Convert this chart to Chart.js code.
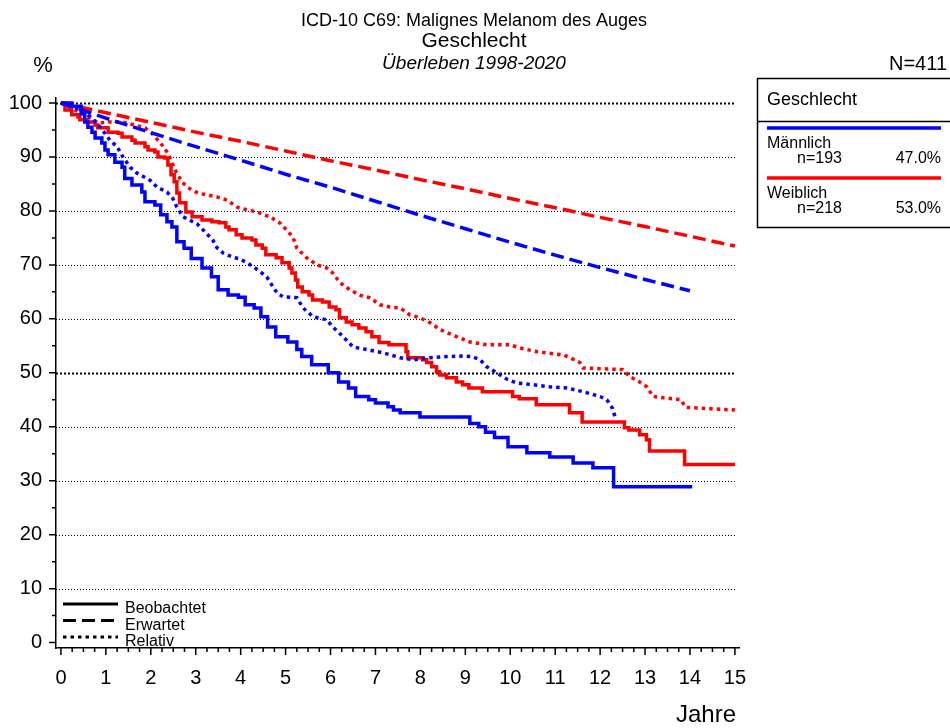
<!DOCTYPE html>
<html>
<head>
<meta charset="utf-8">
<title>Überleben nach Geschlecht</title>
<script src="https://cdn.jsdelivr.net/npm/chart.js"></script>
<style>
  body { margin: 0; background: #fff; }
  #survChart { display: block; }
</style>
</head>
<body>
<canvas id="survChart" width="950" height="728"></canvas>
<script>
// Männlich – beobachtet (Kaplan-Meier, Stufen)
const maleObsYears = [0, 0.24, 0.45, 0.53, 0.6, 0.69, 0.76, 0.91, 0.98, 1.05, 1.2, 1.36, 1.42, 1.58, 1.8, 1.87, 2.09, 2.22, 2.36, 2.47, 2.58, 2.74, 2.9, 3.14, 3.35, 3.5, 3.72, 3.95, 4.1, 4.3, 4.45, 4.6, 4.78, 5.05, 5.25, 5.36, 5.58, 5.95, 6.18, 6.4, 6.56, 6.85, 7.0, 7.28, 7.4, 7.55, 7.99, 9.1, 9.3, 9.45, 9.65, 9.95, 10.37, 10.88, 11.4, 11.84, 12.3, 14.05];
const maleObsPct = [100, 99.4, 98, 96.5, 95.5, 94.6, 93.5, 92.6, 91.3, 90.4, 89, 88.1, 86, 84.8, 83.5, 81.7, 81.1, 79.3, 78, 77, 74.3, 73.1, 71.2, 69.4, 67.8, 65.4, 64.4, 64, 62.6, 62, 60.4, 58.5, 56.7, 55.7, 54.3, 53, 51.5, 50, 48.3, 47.2, 45.6, 45, 44.4, 43.7, 43.1, 42.6, 41.8, 40.6, 40, 39, 38, 36.3, 35.2, 34.4, 33.3, 32.4, 28.9, 28.9];
// Männlich – erwartet
const maleExpYears = [0, 1, 2, 3, 4, 5, 6, 7, 8, 9, 10, 11, 12, 13, 14];
const maleExpPct = [100, 97.2, 94.5, 91.9, 89.4, 86.8, 84.4, 81.8, 79.2, 76.7, 74.2, 71.8, 69.5, 67.3, 65.2];
// Männlich – relativ
const maleRelYears = [0, 0.13, 0.49, 0.87, 1.09, 1.25, 1.38, 1.54, 1.69, 1.98, 2.14, 2.36, 2.49, 2.58, 2.72, 3.03, 3.16, 3.38, 3.47, 3.61, 3.83, 3.98, 4.14, 4.36, 4.58, 4.72, 4.81, 4.94, 5.25, 5.39, 5.61, 5.92, 6.05, 6.28, 6.5, 6.81, 7.17, 7.55, 7.84, 8.21, 8.59, 8.95, 9.15, 9.33, 9.48, 9.66, 9.93, 10.15, 10.5, 10.88, 11.26, 11.62, 12.0, 12.15, 12.27, 12.33];
const maleRelPct = [100, 99.6, 98.7, 95.6, 93.1, 91.9, 90, 88.1, 87, 85.7, 84.4, 83.5, 82.3, 80.7, 78.9, 77.6, 76.5, 74.6, 73.2, 72.2, 71.4, 71.1, 70.4, 69.2, 67.8, 65.9, 64.8, 64.1, 63.9, 62, 60.4, 59.8, 58.5, 56.7, 54.8, 54.3, 53.7, 52.8, 52.4, 52.8, 53, 53.1, 53, 52.4, 51.1, 50.2, 48.8, 48.1, 47.8, 47.4, 47.2, 46.5, 45.6, 45, 43.5, 41.9];

// Weiblich – beobachtet
const femaleObsYears = [0, 0.09, 0.24, 0.38, 0.42, 0.6, 0.76, 0.82, 1.05, 1.27, 1.36, 1.58, 1.65, 1.87, 1.94, 2.09, 2.16, 2.31, 2.38, 2.45, 2.52, 2.58, 2.64, 2.78, 2.92, 3.14, 3.36, 3.52, 3.67, 3.74, 3.9, 4.03, 4.25, 4.34, 4.48, 4.56, 4.79, 4.92, 5.08, 5.14, 5.22, 5.27, 5.37, 5.52, 5.6, 5.82, 5.97, 6.12, 6.2, 6.35, 6.48, 6.63, 6.79, 6.92, 7.08, 7.3, 7.68, 7.72, 8.05, 8.14, 8.25, 8.36, 8.43, 8.58, 8.8, 8.94, 9.08, 9.38, 10.05, 10.2, 10.58, 11.32, 11.6, 12.54, 12.64, 12.88, 13.03, 13.1, 13.88, 15];
const femaleObsPct = [100, 98.7, 97.8, 97.4, 96.9, 96.5, 95.9, 95.4, 94.6, 94.4, 93.7, 93.1, 92.6, 91.9, 91.3, 90.9, 90, 89.8, 88.5, 86.7, 85.4, 83.3, 81.5, 79.8, 78.9, 78.3, 78, 77.8, 77, 76.5, 75.6, 75, 74.6, 73.7, 73.1, 71.9, 71.3, 70.4, 69.4, 68.5, 67.2, 65.9, 65, 64.4, 63.5, 63.1, 62.2, 61.7, 60.2, 59.4, 58.9, 58.3, 57.6, 56.7, 55.6, 55.2, 53.9, 52.8, 52.4, 51.9, 51.1, 50.2, 49.6, 49.1, 48.3, 47.8, 47.2, 46.5, 45.6, 45.2, 44.1, 42.6, 40.9, 39.8, 39.4, 38.5, 37.6, 35.5, 33, 33];
// Weiblich – erwartet
const femaleExpYears = [0, 1, 2, 3, 4, 5, 6, 7, 8, 9, 10, 11, 12, 13, 14, 15];
const femaleExpPct = [100, 98.2, 96.4, 94.6, 92.9, 91.1, 89.3, 87.6, 85.8, 84.1, 82.3, 80.6, 78.8, 77.1, 75.3, 73.5];
// Weiblich – relativ
const femaleRelYears = [0, 0.69, 0.82, 1.1, 1.36, 1.65, 1.87, 2.02, 2.16, 2.25, 2.38, 2.47, 2.54, 2.69, 2.83, 3.05, 3.47, 3.7, 3.92, 4.14, 4.36, 4.65, 4.87, 5.16, 5.25, 5.47, 5.7, 5.92, 6.05, 6.21, 6.43, 6.65, 6.88, 7.1, 7.32, 7.55, 7.77, 7.99, 8.21, 8.44, 8.72, 9.1, 9.48, 9.99, 10.22, 10.6, 11.18, 11.33, 11.55, 11.62, 12.5, 12.66, 12.88, 13.04, 13.18, 13.8, 13.9, 15];
const femaleRelPct = [100, 97.2, 96.3, 96.5, 96.5, 95.9, 95.4, 94.4, 93.1, 92.2, 90.7, 89, 87.6, 85.4, 84.3, 83.3, 82.6, 82, 80.7, 80.2, 79.8, 78.9, 77.8, 75.2, 73.1, 71.3, 70, 69.4, 68.5, 66.7, 65.4, 64.4, 63.9, 62.6, 62.2, 62, 60.7, 60.2, 59.3, 58, 57, 55.7, 55.2, 55.2, 54.6, 53.9, 53.3, 52.8, 51.9, 50.9, 50.6, 49.3, 48.3, 47.4, 45.6, 45, 43.6, 43.1];

// Gruppen-Legende
const groupNames = ['Männlich', 'Weiblich'];
const groupN = [193, 218];
const groupShare = ['47.0%', '53.0%'];
const groupColors = ['#0000ff', '#ff0000'];
const totalN = 411;

// Achsen
const yTicks = [0, 10, 20, 30, 40, 50, 60, 70, 80, 90, 100];
const xTicks = [0, 1, 2, 3, 4, 5, 6, 7, 8, 9, 10, 11, 12, 13, 14, 15];

const FONT = "'Liberation Sans', Arial, sans-serif";
const SOLID = [];
const DASHED = [13, 6];
const DOTTED = [3.5, 4];

function pts(xs, ys) {
    return xs.map((x, i) => ({ x: x, y: ys[i] }));
}

function curve(xs, ys, color, dash, stepped) {
    return {
        data: pts(xs, ys),
        borderColor: color,
        borderWidth: 3.5,
        borderDash: dash,
        borderCapStyle: 'butt',
        pointRadius: 0,
        stepped: stepped,
        tension: 0,
        fill: false
    };
}

function txt(ctx, s, x, y, size, align, style) {
    ctx.font = (style ? style + ' ' : '') + size + 'px ' + FONT;
    ctx.textAlign = align || 'left';
    ctx.textBaseline = 'alphabetic';
    ctx.fillStyle = '#000';
    ctx.fillText(s, x, y);
}

function hline(ctx, x1, x2, y, color, width, dash) {
    ctx.save();
    ctx.strokeStyle = color;
    ctx.lineWidth = width;
    ctx.setLineDash(dash);
    ctx.beginPath();
    ctx.moveTo(x1, y);
    ctx.lineTo(x2, y);
    ctx.stroke();
    ctx.restore();
}

const decor = {
    id: 'decor',
    beforeDatasetsDraw(chart) {
        const ctx = chart.ctx;
        const xs = chart.scales.x, ys = chart.scales.y;
        const left = chart.chartArea.left;
        const right = xs.getPixelForValue(15);
        // gepunktete Hilfslinien, 50 % und 100 % kräftiger
        yTicks.forEach(v => {
            if (v === 0) return;
            const y = Math.round(ys.getPixelForValue(v)) + 0.5;
            if (v === 50 || v === 100) hline(ctx, left, right, y, '#000', 2, [2, 2]);
            else hline(ctx, left, right, y, '#000', 1, [1, 2]);
        });
    },
    afterDraw(chart) {
        const ctx = chart.ctx;
        const xs = chart.scales.x, ys = chart.scales.y;
        const axisX = chart.chartArea.left;
        const axisY = chart.chartArea.bottom;

        // Teilstriche
        ctx.save();
        ctx.strokeStyle = '#000';
        ctx.lineWidth = 1.5;
        ctx.beginPath();
        for (let v = 0; v <= 100; v += 5) {
            const y = ys.getPixelForValue(v);
            const len = v % 10 === 0 ? 7 : 4;
            ctx.moveTo(axisX, y);
            ctx.lineTo(axisX - len, y);
        }
        for (let q = 0; q <= 60; q++) {
            const x = xs.getPixelForValue(q / 4);
            const len = q % 4 === 0 ? 7 : 4;
            ctx.moveTo(x, axisY);
            ctx.lineTo(x, axisY + len);
        }
        ctx.stroke();
        ctx.restore();

        // Titel
        const cx = 474;
        txt(ctx, 'ICD-10 C69: Malignes Melanom des Auges', cx, 26, 18, 'center');
        txt(ctx, 'Geschlecht', cx, 47, 21, 'center');
        txt(ctx, 'Überleben 1998-2020', cx, 69, 19, 'center', 'italic');
        txt(ctx, '%', 43, 72, 22, 'center');
        txt(ctx, 'N=' + totalN, 947, 70, 20, 'right');
        txt(ctx, 'Jahre', 736, 722, 24, 'right');

        // Legende Gruppen
        ctx.save();
        ctx.strokeStyle = '#000';
        ctx.lineWidth = 1.5;
        ctx.strokeRect(757.5, 78.5, 200, 149);
        hline(ctx, 757, 950, 121.5, '#000', 1.5, SOLID);
        ctx.restore();
        txt(ctx, 'Geschlecht', 767, 105, 18, 'left');
        groupNames.forEach((name, i) => {
            const top = 128 + i * 50;
            hline(ctx, 767, 941, top, groupColors[i], 3.5, SOLID);
            txt(ctx, name, 767, top + 20, 16, 'left');
            txt(ctx, 'n=' + groupN[i], 797, top + 35, 16, 'left');
            txt(ctx, groupShare[i], 941, top + 35, 16, 'right');
        });

        // Legende Linienarten
        const styles = [['Beobachtet', SOLID], ['Erwartet', DASHED], ['Relativ', DOTTED]];
        styles.forEach((s, i) => {
            const y = 604 + i * 16.5;
            hline(ctx, 63, 118, y, '#000', 3, s[1]);
            txt(ctx, s[0], 125, y + 9, 16, 'left');
        });
    }
};

new Chart(document.getElementById('survChart'), {
    type: 'line',
    data: {
        datasets: [
            curve(maleObsYears, maleObsPct, groupColors[0], SOLID, true),
            curve(maleExpYears, maleExpPct, groupColors[0], DASHED, false),
            curve(maleRelYears, maleRelPct, groupColors[0], DOTTED, false),
            curve(femaleObsYears, femaleObsPct, groupColors[1], SOLID, true),
            curve(femaleExpYears, femaleExpPct, groupColors[1], DASHED, false),
            curve(femaleRelYears, femaleRelPct, groupColors[1], DOTTED, false)
        ]
    },
    options: {
        responsive: false,
        animation: false,
        devicePixelRatio: 1,
        layout: { padding: { top: 97.6, right: 210.6, left: 0, bottom: 0 } },
        plugins: {
            legend: { display: false },
            title: { display: false },
            tooltip: { enabled: false }
        },
        scales: {
            x: {
                type: 'linear',
                min: -0.11,
                max: 15.1,
                afterBuildTicks: s => { s.ticks = xTicks.map(v => ({ value: v })); },
                afterFit: s => { s.height = 80; },
                ticks: {
                    color: '#000',
                    padding: 10,
                    font: { family: FONT, size: 20 },
                    maxRotation: 0,
                    autoSkip: false
                },
                grid: { display: false },
                border: { display: true, color: '#000', width: 1.5 }
            },
            y: {
                type: 'linear',
                min: -1,
                max: 101,
                afterBuildTicks: s => { s.ticks = yTicks.map(v => ({ value: v })); },
                afterFit: s => { s.width = 56; },
                ticks: {
                    color: '#000',
                    padding: 6,
                    font: { family: FONT, size: 20 }
                },
                grid: { display: false },
                border: { display: true, color: '#000', width: 1.5 }
            }
        }
    },
    plugins: [decor]
});
</script>
</body>
</html>
